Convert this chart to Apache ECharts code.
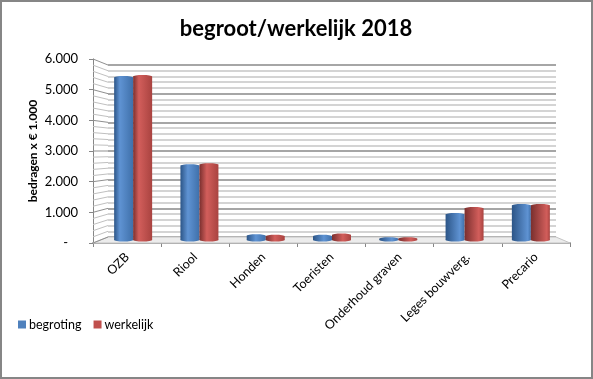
<!DOCTYPE html>
<html><head><meta charset="utf-8">
<style>html,body{margin:0;padding:0;background:#fff}#c{width:593px;height:379px}</style>
<script src="https://cdn.jsdelivr.net/npm/echarts@6/dist/echarts.min.js"></script>
</head><body><div id="c"></div>
<script>
const categories = ['OZB','Riool','Honden','Toeristen','Onderhoud graven','Leges bouwverg.','Precario'];
const begroting = [5480,2500,140,130,40,860,1165];
const werkelijk = [5510,2540,130,170,40,1065,1165];
const wallTicks = [0,200,400,600,800,1000,1200,1400,1600,1800,2000,2200,2400,2600,2800,3000,3200,3400,3600,3800,4000,4200,4400,4600,4800,5000,5200,5400,5600,5800,6000];
const FONT = 'Lato';
const front = {left:93,top:59,width:477,height:184};
const back  = {left:108,top:65,width:448,height:172};
const mid   = {left:100,top:62,width:464,height:178};
const BW = 19;
const MAX = 6000;

function frontY(v){return front.top + front.height*(1-v/MAX);}
function grad(i,stops){
  const h = 0.3 + i*0.09;
  return {type:'linear',x:0,y:0,x2:1,y2:0,colorStops:[
    {offset:0,color:stops[0]},{offset:h,color:stops[1]},{offset:1,color:stops[2]}]};
}
const blue=['#2c5587','#5f93d3','#3f70aa'], red=['#7a2f2e','#d25e5b','#a94340'];
function barData(vals,stops){return vals.map((v,i)=>({value:v,itemStyle:{color:grad(i,stops)}}));}
function capSeries(vals,side,stops,bottom){
  return {type:'custom',xAxisIndex:2,yAxisIndex:2,z:bottom?3:6,silent:true,clip:false,
    data:vals.map((v,i)=>[i,v]),encode:{x:0,y:1},
    renderItem:(p,api)=>{
      const i=api.value(0), c=api.coord([i,bottom?0:api.value(1)]);
      return {type:'ellipse',shape:{cx:c[0]+side*BW/2,cy:c[1],rx:BW/2,ry:1.5},style:{fill:grad(i,stops)}};
    }};
}
const chart = echarts.init(document.getElementById('c'),null,{renderer:'canvas'});
chart.setOption({
  animation:false,
  backgroundColor:'#fff',
  title:{text:'begroot/werkelijk 2018',left:291,top:13,textAlign:'center',
    textStyle:{fontFamily:FONT,fontSize:22,fontWeight:'bold',color:'#000'}},
  legend:{left:13,top:313,itemWidth:8,itemHeight:8,itemGap:12,icon:'rect',
    data:['begroting','werkelijk'],
    textStyle:{fontFamily:FONT,fontSize:12.5,color:'#000',padding:[0,0,0,-2]}},
  graphic:[{type:'rect',silent:true,z:-10,shape:{x:1,y:1,width:591,height:377},
    style:{fill:'none',stroke:'#868686',lineWidth:2}}],
  grid:[
    {left:front.left,top:front.top,width:front.width,height:front.height},
    {left:back.left,top:back.top,width:back.width,height:back.height},
    {left:mid.left,top:mid.top,width:mid.width,height:mid.height}
  ],
  xAxis:[
    {gridIndex:0,type:'category',data:categories,
      axisLine:{lineStyle:{color:'#a0a0a0',width:2}},
      axisTick:{show:true,alignWithLabel:false,length:4,lineStyle:{color:'#868686'}},
      axisLabel:{rotate:45,interval:0,margin:12,verticalAlign:'middle',fontFamily:FONT,fontSize:12.5,color:'#000'}},
    {gridIndex:1,type:'value',min:0,max:1,show:false},
    {gridIndex:2,type:'category',data:categories,show:false}
  ],
  yAxis:[
    {gridIndex:0,type:'value',min:0,max:MAX,interval:1000,
      name:'bedragen x € 1.000',nameLocation:'middle',nameGap:54,nameMoveOverlap:false,
      nameTextStyle:{fontFamily:FONT,fontSize:12,fontWeight:'bold',color:'#000'},
      axisLine:{show:true,lineStyle:{color:'#868686'}},
      axisTick:{show:true,length:4,lineStyle:{color:'#868686'}},
      splitLine:{show:false},
      axisLabel:{margin:15,fontFamily:FONT,fontSize:13,color:'#000',
        formatter:v=>v===0?'-   ':(v/1000)+'.000'}},
    {gridIndex:1,type:'value',min:0,max:MAX,interval:200,
      axisLine:{show:false},axisTick:{show:false},axisLabel:{show:false},
      splitLine:{show:true,lineStyle:{width:2,color:['#a6a6a6','#d4d4d4','#d4d4d4','#d4d4d4','#d4d4d4']}}},
    {gridIndex:2,type:'value',min:0,max:MAX,show:false}
  ],
  series:[
    {type:'custom',xAxisIndex:1,yAxisIndex:1,z:1,silent:true,clip:false,
      data:[[0,0]],encode:{x:0,y:1},
      renderItem:(p,api)=>{
        const a=api.coord([0,0]),b=api.coord([1,0]);
        return {type:'polygon',shape:{points:[a,b,[front.left+front.width,frontY(0)],[front.left,frontY(0)]]},
          style:{fill:'#ececec',stroke:'#c4c4c4',lineWidth:1}};
      }},
    {type:'custom',xAxisIndex:1,yAxisIndex:1,z:2,silent:true,clip:false,
      data:wallTicks.map(v=>[0,v]),encode:{x:0,y:1},
      renderItem:(p,api)=>{
        const v=api.value(1),b=api.coord([0,v]);
        return {type:'line',shape:{x1:front.left,y1:frontY(v),x2:b[0],y2:b[1]},
          style:{stroke:v%1000===0?'#8f8f8f':'#c0c0c0',lineWidth:1}};
      }},
    capSeries(begroting,-1,blue,true),
    capSeries(werkelijk,1,red,true),
    {name:'begroting',type:'bar',xAxisIndex:2,yAxisIndex:2,z:4,barWidth:BW,barGap:0,
      itemStyle:{color:'#4f81bd'},data:barData(begroting,blue)},
    {name:'werkelijk',type:'bar',xAxisIndex:2,yAxisIndex:2,z:4,barWidth:BW,barGap:0,
      itemStyle:{color:'#c0504d'},data:barData(werkelijk,red)},
    capSeries(begroting,-1,blue,false),
    capSeries(werkelijk,1,red,false)
  ]
});
</script></body></html>
